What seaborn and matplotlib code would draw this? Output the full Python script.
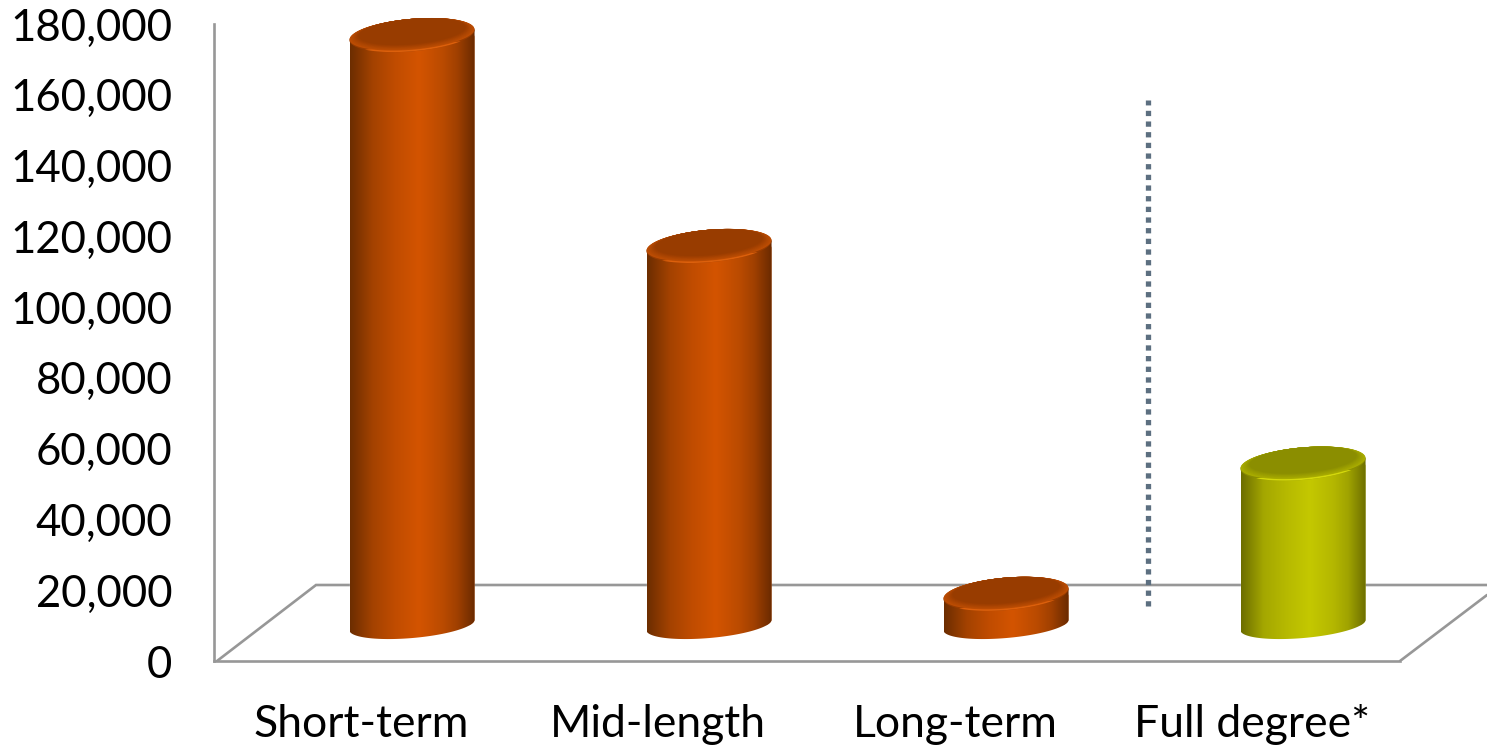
import numpy as np
import pandas as pd
import matplotlib
matplotlib.use("Agg")
import matplotlib.pyplot as plt
from matplotlib.colors import LinearSegmentedColormap, to_rgb
from matplotlib.patches import Polygon
from matplotlib.transforms import IdentityTransform
import seaborn as sns

# Enrolment-style counts by programme length
categories = ["Short-term", "Mid-length", "Long-term", "Full degree*"]
values = [166700, 107100, 8800, 45600]
groups = ["credit", "credit", "credit", "degree"]
y_ticks = [0, 20000, 40000, 60000, 80000, 100000, 120000, 140000, 160000, 180000]

sns.set_theme(style="white")
plt.rcParams["font.family"] = ["Lato", "DejaVu Sans"]

W, H = 1487, 747
fig = plt.figure(figsize=(W / 100, H / 100), dpi=100, facecolor="white")
ax = fig.add_axes([214 / W, (H - 661) / H, (W - 214) / W, 637 / H])

PX_PER_CAT = 297.0
X_MIN = (214 - 412) / PX_PER_CAT
X_MAX = (1487 - 412) / PX_PER_CAT
PX_PER_UNIT = 637 / 180000
BASE = 36 / PX_PER_UNIT           # height of the cylinder base above the front floor edge
LABEL_SHIFT = 51 / PX_PER_CAT     # axis labels sit on the front edge, cylinders further back
GREY = "#979797"

frame = pd.DataFrame({"category": categories, "value": values, "group": groups})
sns.barplot(data=frame, x="category", y="value", hue="group", dodge=False,
            palette={"credit": "#d35400", "degree": "#c4c800"},
            width=125 / PX_PER_CAT, bottom=BASE, legend=False, ax=ax, zorder=3)

ax.set_xlim(X_MIN, X_MAX)
ax.set_ylim(0, 180000)
ax.set_xlabel("")
ax.set_ylabel("")
ax.set_yticks(y_ticks)
ax.set_yticklabels([f"{v:,}" for v in y_ticks])
ax.set_xticks(np.arange(len(categories)) - LABEL_SHIFT)
ax.set_xticklabels(categories)
ax.tick_params(axis="y", length=0, pad=30, labelsize=31.5, labelcolor="black")
ax.tick_params(axis="x", length=0, pad=31, labelsize=32, labelcolor="black")
ax.patch.set_alpha(0)

# Floor of the pseudo-3D plot box
for side in ("top", "right"):
    ax.spines[side].set_visible(False)
for side in ("left", "bottom"):
    ax.spines[side].set_color(GREY)
    ax.spines[side].set_linewidth(1.9)
front_right = (1400 - 412) / PX_PER_CAT
back_left = (316 - 412) / PX_PER_CAT
floor_back = 76 / PX_PER_UNIT
ax.spines["bottom"].set_bounds(X_MIN, front_right)
ax.plot([X_MIN + 3 / PX_PER_CAT, back_left, X_MAX], [0, floor_back, floor_back],
        color=GREY, lw=1.9, zorder=1, solid_joinstyle="miter")
ax.plot([front_right, front_right + 87 / PX_PER_CAT], [0, 66 / PX_PER_UNIT],
        color=GREY, lw=1.9, zorder=1)

# Dotted separator between credit mobility and full degrees
ax.plot([(1148 - 412) / PX_PER_CAT] * 2, [15500, 158500], color="#5c6f80", lw=3.8,
        linestyle=(0, (1.0, 1.02)), dash_capstyle="butt", zorder=2)

SEMI_A, LID_B, BASE_B, TILT = 62.8, 16.2, 13.0, np.radians(5.0)


def ellipse_xy(cx, cy, a, b, t):
    return np.column_stack([
        cx + a * np.cos(t) * np.cos(TILT) - b * np.sin(t) * np.sin(TILT),
        cy + a * np.cos(t) * np.sin(TILT) + b * np.sin(t) * np.cos(TILT),
    ])


side_stops = {
    "credit": ["#6c2d00", "#a34200", "#c04c00", "#d35400", "#bb4b00", "#a04000", "#6a2a00"],
    "degree": ["#6c6e00", "#a4a700", "#b6b900", "#c4c800", "#b4b700", "#a0a300", "#6d6f00"],
}
side_pos = [0.0, 0.18, 0.36, 0.55, 0.74, 0.86, 1.0]
lid_colors = {
    "credit": ("#dc600c", "#bd4d03", "#983c00"),
    "degree": ("#d4d80c", "#aaad00", "#8b8e00"),
}

ramp = np.linspace(0, 1, 256).reshape(1, -1)
bars = sorted(ax.patches, key=lambda p: p.get_x())
for bar, group in zip(bars, groups):
    left, width = bar.get_x(), bar.get_width()
    centre = left + width / 2
    base_x, base_y = ax.transData.transform((centre, BASE))
    top_x, top_y = ax.transData.transform((centre, bar.get_y() + bar.get_height()))

    # Cylinder wall: straight sides closed by the lower arc of the base ellipse
    arc = ellipse_xy(base_x, base_y, SEMI_A, BASE_B, np.linspace(np.pi, 2 * np.pi, 80))
    tips = ellipse_xy(top_x, top_y, SEMI_A, LID_B, np.array([0.0, np.pi]))
    wall = Polygon(np.vstack([arc, tips]), closed=True, transform=IdentityTransform(),
                   facecolor="none", edgecolor="none")
    ax.add_patch(wall)
    bar.set_clip_path(wall)

    cmap = LinearSegmentedColormap.from_list("wall", list(zip(side_pos, side_stops[group])))
    image = ax.imshow(ramp, cmap=cmap, aspect="auto", interpolation="bilinear", zorder=3.5,
                      extent=(left, left + width, 0, bar.get_y() + bar.get_height() + 10 / PX_PER_UNIT))
    image.set_clip_path(wall)

    # Bevelled lid: the bright rim only shows along the lower edge, the bevel
    # then narrows towards the flat dark centre with the far edge staying put
    rim, bevel, flat = (np.array(to_rgb(c)) for c in lid_colors[group])
    t = np.linspace(0, 2 * np.pi, 160)
    ax.add_patch(Polygon(ellipse_xy(top_x, top_y, SEMI_A, LID_B, t), closed=True,
                         transform=IdentityTransform(), facecolor=flat,
                         edgecolor="none", clip_on=False, zorder=4.0))
    arc_low = np.linspace(np.pi + 0.7, 2 * np.pi - 0.7, 60)
    ax.add_patch(Polygon(ellipse_xy(top_x, top_y, SEMI_A, LID_B, arc_low), closed=True,
                         transform=IdentityTransform(), facecolor=rim,
                         edgecolor="none", clip_on=False, zorder=4.01))
    steps = 9
    for i in range(steps):
        f = i / (steps - 1)
        shade = bevel + (flat - bevel) * f
        a = SEMI_A - 0.2 - 8.8 * f
        b = LID_B - 0.8 - 2.7 * f
        cy = top_y + 0.8 + 2.7 * f
        ax.add_patch(Polygon(ellipse_xy(top_x, cy, a, b, t), closed=True,
                             transform=IdentityTransform(), facecolor=shade,
                             edgecolor="none", clip_on=False, zorder=4.02 + i * 0.01))

ax.set_xlim(X_MIN, X_MAX)
ax.set_ylim(0, 180000)
fig.savefig("out.png", dpi=100, facecolor="white")
